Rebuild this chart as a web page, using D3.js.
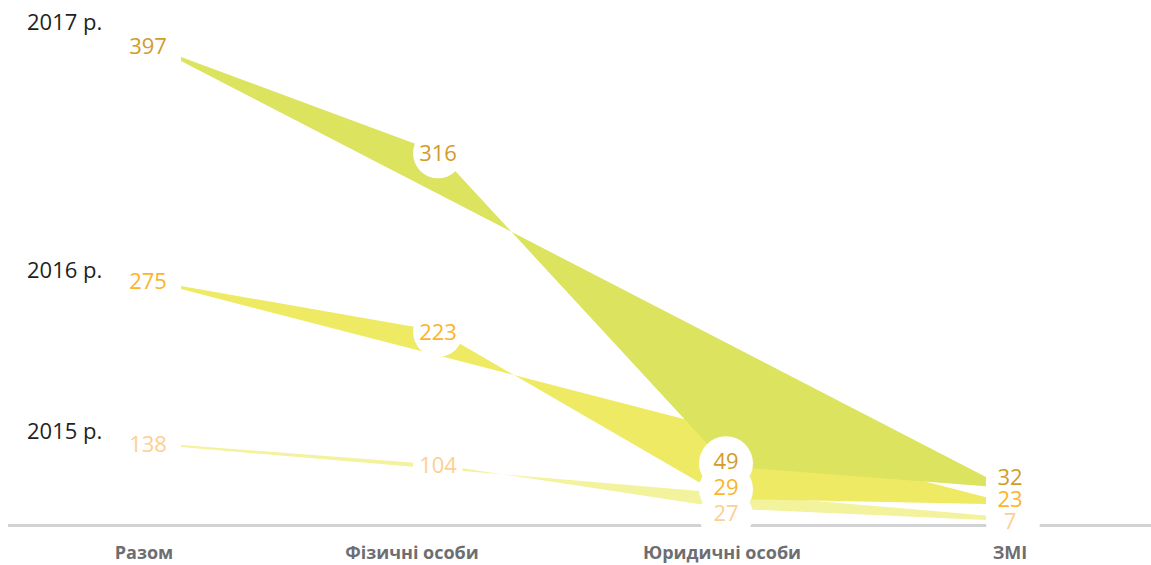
<!DOCTYPE html>
<html>
<head>
<meta charset="utf-8">
<script src="https://cdn.jsdelivr.net/npm/d3@7"></script>
<style>
  body { margin: 0; background: #fff; }
  svg { display: block; }
  text { font-family: "Open Sans", "Noto Sans", sans-serif; }
</style>
</head>
<body>
<div id="chart"></div>
<script>
// data
const categories = ['Разом', 'Фізичні особи', 'Юридичні особи', 'ЗМІ'];
const years = ['2015', '2016', '2017'];
const yearLabels = ['2015 р.', '2016 р.', '2017 р.'];
const values2015 = [138, 104, 27, 7];
const values2016 = [275, 223, 29, 23];
const values2017 = [397, 316, 49, 32];

const series = [
  { year: years[0], label: yearLabels[0], values: values2015 },
  { year: years[1], label: yearLabels[1], values: values2016 },
  { year: years[2], label: yearLabels[2], values: values2017 },
];

// styles / layout
const FILL = { '2015': '#f3f29d', '2016': '#efea63', '2017': '#dce35f' };
const TEXT = { '2015': '#fdcf94', '2016': '#fbb42c', '2017': '#d39b2a' };
const TOP = { '2015': 445, '2016': 286, '2017': 57 };      // where each year's max sits
const START_DY = { '2015': -1, '2016': -4.5, '2017': -10.5 };
const YEAR_DY = { '2015': -6, '2016': -8, '2017': -27 };
const BASE = 524;
const width = 1151, height = 565;

const x = d3.scaleOrdinal().domain(categories).range([181, 438, 728, 986]);
const labelX = d3.scaleOrdinal().domain(categories).range([144, 412, 722, 1010]);

const yScale = {};
series.forEach(s => {
  yScale[s.year] = d3.scaleLinear().domain([0, d3.max(s.values)]).range([BASE, TOP[s.year]]);
});

const svg = d3.select('#chart').append('svg')
  .attr('width', width)
  .attr('height', height);

// baseline
svg.append('line')
  .attr('x1', 8).attr('x2', width)
  .attr('y1', BASE + 1.5).attr('y2', BASE + 1.5)
  .attr('stroke', '#d1d2d4')
  .attr('stroke-width', 3);

// dodge labels at one category so they don't overlap
function dodge(items, gap) {
  items.sort((a, b) => a.y - b.y);
  for (let it = 0; it < 200; it++) {
    for (let i = 0; i < items.length - 1; i++) {
      const d = items[i + 1].y - items[i].y;
      if (d < gap) {
        const push = (gap - d) / 2;
        items[i].y -= push;
        items[i + 1].y += push;
      }
    }
  }
  return items;
}

const endLabels = dodge(series.map(s => ({
  s, v: s.values[3], y: yScale[s.year](s.values[3]) - 4
})), 22);
const midLabels = dodge(series.map(s => ({
  s, v: s.values[2], y: yScale[s.year](s.values[2]) - 4
})), 26);

// white backing behind end labels (cuts the baseline)
svg.append('g')
  .selectAll('circle')
  .data(endLabels)
  .join('circle')
  .attr('cx', labelX(categories[3]) + 3)
  .attr('cy', d => d.y + 1)
  .attr('r', 27)
  .attr('fill', '#fff');

// ribbons: value polyline closed by a straight chord
const line = d3.line();
svg.append('g')
  .selectAll('path')
  .data(series)
  .join('path')
  .attr('fill', d => FILL[d.year])
  .attr('d', d => {
    const y = yScale[d.year];
    const pts = d.values.map((v, i) => [x(categories[i]), y(v)]);
    pts.push([x(categories[3]), y(d.values[3] + 8)]);
    pts.push([x(categories[0]), y(d.values[0] - 3.5)]);
    return line(pts) + 'Z';
  });

// white circles under middle labels
const phys = series.map(s => ({ s, v: s.values[1], y: yScale[s.year](s.values[1]) + 1 }));
const circles = svg.append('g');
circles.selectAll('circle.phys')
  .data(phys)
  .join('circle')
  .attr('class', 'phys')
  .attr('cx', x(categories[1]))
  .attr('cy', d => d.y)
  .attr('r', 25)
  .attr('fill', '#fff');
circles.selectAll('circle.jur')
  .data(midLabels)
  .join('circle')
  .attr('class', 'jur')
  .attr('cx', x(categories[2]) - 2)
  .attr('cy', d => d.y + 2)
  .attr('r', 27)
  .attr('fill', '#fff');

// value labels
const labels = svg.append('g')
  .attr('font-size', '22px')
  .attr('text-anchor', 'middle');

labels.selectAll('text.start')
  .data(series)
  .join('text')
  .attr('class', 'start')
  .attr('x', labelX(categories[0]) + 4)
  .attr('y', d => yScale[d.year](d.values[0]) + START_DY[d.year])
  .attr('dy', '0.36em')
  .attr('fill', d => TEXT[d.year])
  .text(d => d.values[0]);

labels.selectAll('text.phys')
  .data(phys)
  .join('text')
  .attr('class', 'phys')
  .attr('x', x(categories[1]))
  .attr('y', d => d.y)
  .attr('dy', '0.36em')
  .attr('fill', d => TEXT[d.s.year])
  .text(d => d.v);

labels.selectAll('text.jur')
  .data(midLabels)
  .join('text')
  .attr('class', 'jur')
  .attr('x', x(categories[2]) - 2)
  .attr('y', d => d.y)
  .attr('dy', '0.36em')
  .attr('fill', d => TEXT[d.s.year])
  .text(d => d.v);

labels.selectAll('text.end')
  .data(endLabels)
  .join('text')
  .attr('class', 'end')
  .attr('x', labelX(categories[3]))
  .attr('y', d => d.y)
  .attr('dy', '0.36em')
  .attr('fill', d => TEXT[d.s.year])
  .text(d => d.v);

// year labels
svg.append('g')
  .selectAll('text')
  .data(series)
  .join('text')
  .attr('x', 27)
  .attr('y', d => yScale[d.year](d3.max(d.values)) + YEAR_DY[d.year])
  .attr('font-size', '22px')
  .attr('fill', '#231f20')
  .text(d => d.label);

// category labels
svg.append('g')
  .selectAll('text')
  .data(categories)
  .join('text')
  .attr('x', d => labelX(d))
  .attr('y', 559)
  .attr('text-anchor', 'middle')
  .attr('font-size', '18px')
  .attr('font-weight', 700)
  .attr('fill', '#6d6e71')
  .text(d => d);
</script>
</body>
</html>
